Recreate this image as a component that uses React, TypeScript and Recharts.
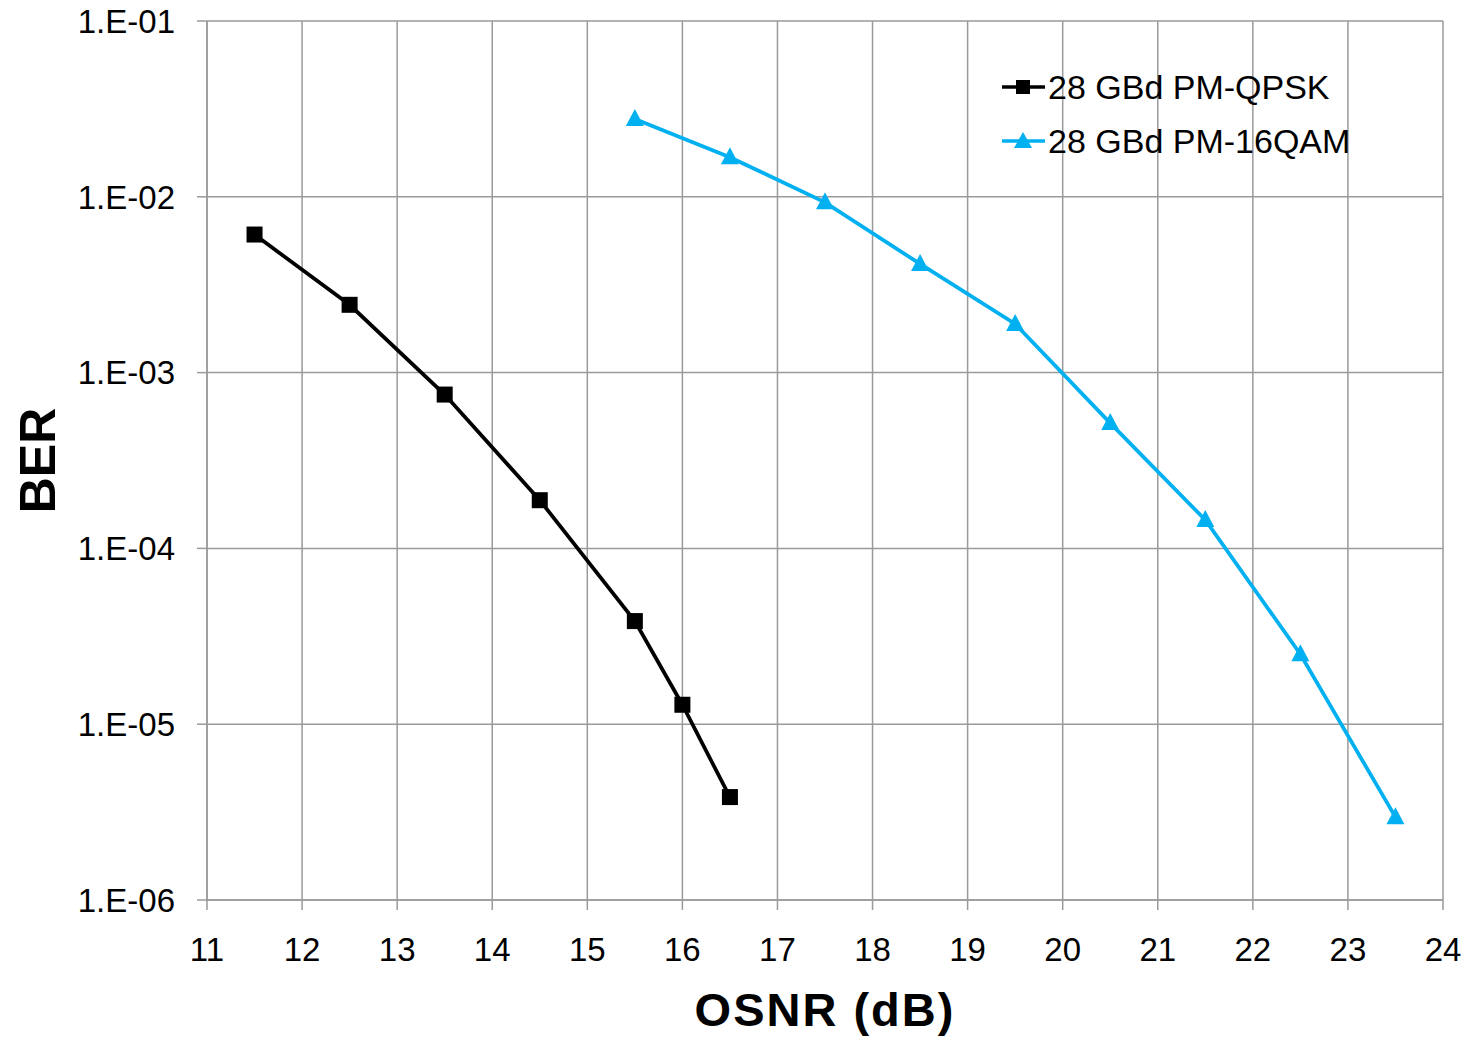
import React from "react";
import {
  LineChart, Line, XAxis, YAxis, CartesianGrid, Legend, Label,
} from "recharts";

const FONT = '"Liberation Sans", Arial, sans-serif';
const GRID = "#9a9a9a";
const CYAN = "#00b0f0";

const osnrTicks = [11, 12, 13, 14, 15, 16, 17, 18, 19, 20, 21, 22, 23, 24];
const berTicks = [1e-1, 1e-2, 1e-3, 1e-4, 1e-5, 1e-6];

const qpskOsnr = [11.5, 12.5, 13.5, 14.5, 15.5, 16.0, 16.5];
const qpskBer = [6.1e-3, 2.43e-3, 7.5e-4, 1.88e-4, 3.86e-5, 1.29e-5, 3.85e-6];

const qamOsnr = [15.5, 16.5, 17.5, 18.5, 19.5, 20.5, 21.5, 22.5, 23.5];
const qamBer = [2.77e-2, 1.68e-2, 9.3e-3, 4.15e-3, 1.89e-3, 5.16e-4, 1.45e-4, 2.5e-5, 2.96e-6];

const qpskData = qpskOsnr.map((x, i) => ({ x, y: qpskBer[i] }));
const qamData = qamOsnr.map((x, i) => ({ x, y: qamBer[i] }));

const fmtBer = (v: number) => {
  const e = Math.round(Math.log10(v));
  return `1.E-${String(-e).padStart(2, "0")}`;
};

function Square(props: any) {
  const { cx, cy } = props;
  if (cx == null || cy == null) return null;
  return <rect x={cx - 8} y={cy - 8} width={16} height={16} fill="#000" />;
}

function Triangle(props: any) {
  const { cx, cy } = props;
  if (cx == null || cy == null) return null;
  return <polygon points={`${cx},${cy - 10} ${cx + 9},${cy + 7} ${cx - 9},${cy + 7}`} fill={CYAN} />;
}

const legendItems = [
  { label: "28 GBd PM-QPSK", color: "#000", marker: "square" },
  { label: "28 GBd PM-16QAM", color: CYAN, marker: "triangle" },
];

function LegendBox() {
  return (
    <div style={{ fontFamily: FONT, fontSize: 34, color: "#000", whiteSpace: "nowrap" }}>
      {legendItems.map((it) => (
        <div key={it.label} style={{ display: "flex", alignItems: "center", height: 54 }}>
          <svg width={46} height={20} style={{ marginRight: 2 }}>
            <line x1={2} y1={10} x2={45} y2={10} stroke={it.color} strokeWidth={3.5} />
            {it.marker === "square" ? (
              <rect x={16} y={3} width={14} height={14} fill={it.color} />
            ) : (
              <polygon points="23,1 32,17 14,17" fill={it.color} />
            )}
          </svg>
          <span>{it.label}</span>
        </div>
      ))}
    </div>
  );
}

export default function App() {
  return (
    <div style={{ position: "absolute", left: 0, top: 0, background: "#fff" }}>
      <LineChart width={1474} height={1037} margin={{ top: 21, right: 31, left: 0, bottom: 0 }}>
        <CartesianGrid stroke={GRID} strokeWidth={1.5} />
        <XAxis
          type="number"
          dataKey="x"
          domain={[11, 24]}
          ticks={osnrTicks}
          allowDataOverflow
          height={137}
          stroke={GRID}
          tickSize={10}
          tickMargin={28}
          tick={{ fill: "#000", fontSize: 33, fontFamily: FONT }}
          axisLine={{ stroke: GRID, strokeWidth: 1.5 }}
          tickLine={{ stroke: GRID, strokeWidth: 1.5 }}
        >
          <Label
            value="OSNR (dB)"
            position="insideBottom"
            offset={11}
            style={{ fill: "#000", fontSize: 47, letterSpacing: 2, fontWeight: "bold", fontFamily: FONT }}
          />
        </XAxis>
        <YAxis
          type="number"
          dataKey="y"
          scale="log"
          domain={[1e-6, 1e-1]}
          ticks={berTicks}
          allowDataOverflow
          width={207}
          stroke={GRID}
          tickSize={10}
          tickMargin={22}
          tickFormatter={fmtBer}
          tick={{ fill: "#000", fontSize: 33, fontFamily: FONT }}
          axisLine={{ stroke: GRID, strokeWidth: 1.5 }}
          tickLine={{ stroke: GRID, strokeWidth: 1.5 }}
        >
          <Label
            value="BER"
            angle={-90}
            position="insideLeft"
            offset={37}
            style={{ fill: "#000", fontSize: 50, fontWeight: "bold", fontFamily: FONT, textAnchor: "middle" }}
          />
        </YAxis>
        <Legend
          layout="vertical"
          align="center"
          verticalAlign="middle"
          content={() => <LegendBox />}
          wrapperStyle={{ position: "absolute", left: 1000, top: 60, width: "auto", height: "auto" }}
        />
        <Line
          data={qpskData}
          dataKey="y"
          name="28 GBd PM-QPSK"
          type="linear"
          stroke="#000"
          strokeWidth={3.75}
          dot={<Square />}
          activeDot={false}
          isAnimationActive={false}
        />
        <Line
          data={qamData}
          dataKey="y"
          name="28 GBd PM-16QAM"
          type="linear"
          stroke={CYAN}
          strokeWidth={3.75}
          dot={<Triangle />}
          activeDot={false}
          isAnimationActive={false}
        />
      </LineChart>
    </div>
  );
}
